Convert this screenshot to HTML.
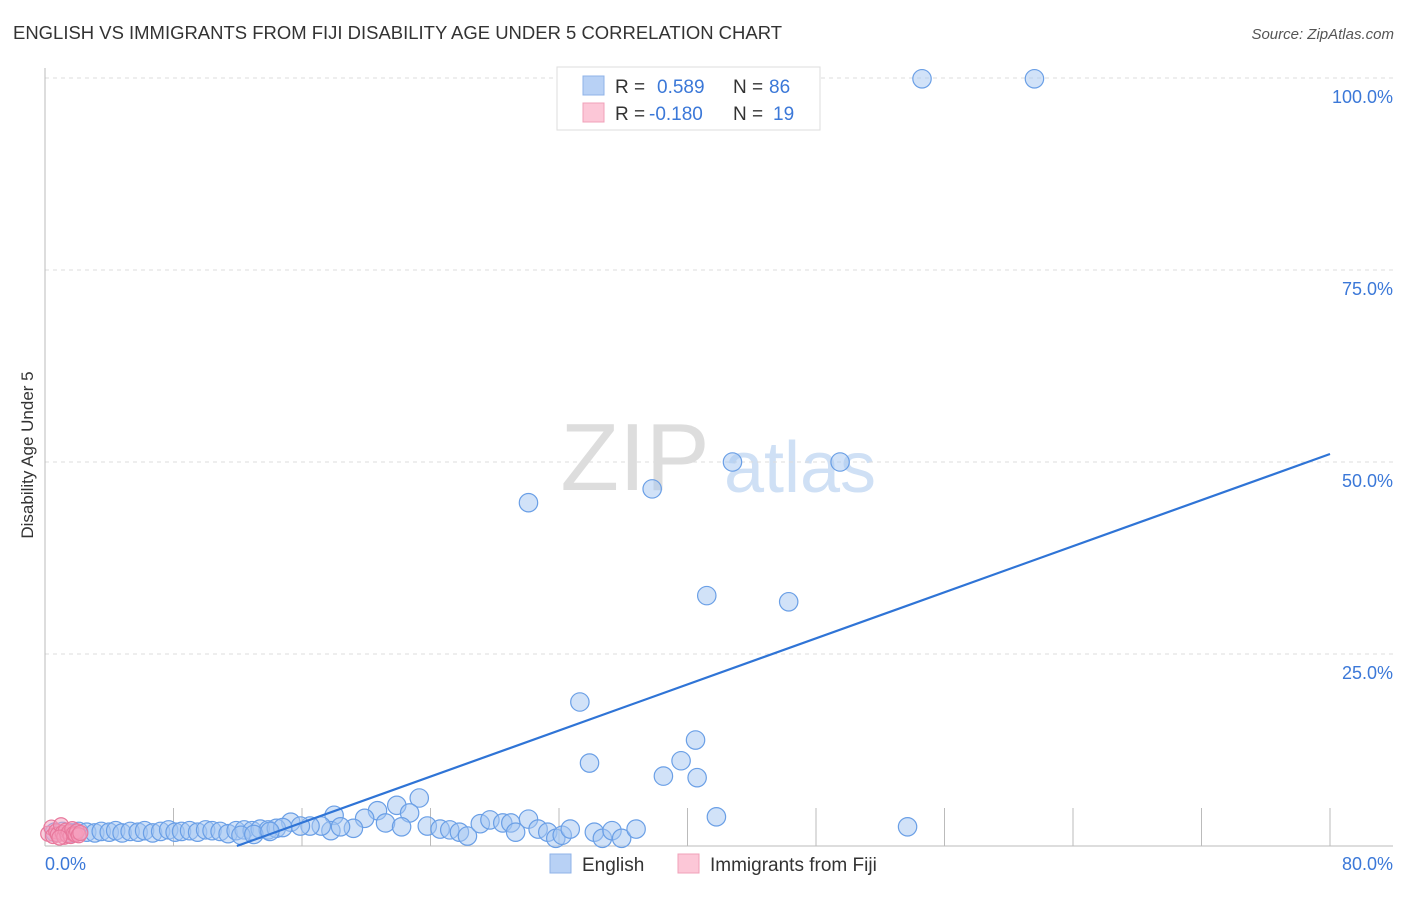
<!DOCTYPE html>
<html><head><meta charset="utf-8">
<style>
body{margin:0;background:#fff;font-family:"Liberation Sans",sans-serif;}
svg text{font-family:"Liberation Sans",sans-serif;}
</style></head>
<body>
<svg id="chart" width="1406" height="892" xmlns="http://www.w3.org/2000/svg">
<text x="13" y="39" font-size="18" fill="#333" textLength="769" lengthAdjust="spacingAndGlyphs">ENGLISH VS IMMIGRANTS FROM FIJI DISABILITY AGE UNDER 5 CORRELATION CHART</text>
<text x="1394" y="39" font-size="15" fill="#555" font-style="italic" text-anchor="end">Source: ZipAtlas.com</text>
<text transform="translate(33,455) rotate(-90)" font-size="17" fill="#333" text-anchor="middle">Disability Age Under 5</text>
<g>
<text x="635" y="490" font-size="96" fill="#ddd" font-family="Liberation Serif" text-anchor="middle">ZIP</text>
<text x="800" y="492" font-size="72" fill="#cfe0f5" text-anchor="middle">atlas</text>
</g>
<g id="grid"></g>
<g id="axes"></g>
<g id="marks"></g>
<g>
<rect x="557" y="67" width="263" height="63" fill="#fff" stroke="#ddd"/>
<rect x="583" y="76" width="21" height="19" fill="#b8d1f5" stroke="#8fb3e8"/>
<rect x="583" y="103" width="21" height="19" fill="#fcc7d7" stroke="#f0a0b8"/>
<text x="615" y="93" font-size="19" fill="#333">R =</text>
<text x="657" y="93" font-size="19" fill="#3b78d8">0.589</text>
<text x="733" y="93" font-size="19" fill="#333">N =</text>
<text x="769" y="93" font-size="19" fill="#3b78d8">86</text>
<text x="615" y="120" font-size="19" fill="#333">R =</text>
<text x="649" y="120" font-size="19" fill="#3b78d8">-0.180</text>
<text x="733" y="120" font-size="19" fill="#333">N =</text>
<text x="773" y="120" font-size="19" fill="#3b78d8">19</text>
</g>
<g>
<rect x="550" y="854" width="21" height="19" fill="#b8d1f5" stroke="#8fb3e8"/>
<text x="582" y="871" font-size="19" fill="#333">English</text>
<rect x="678" y="854" width="21" height="19" fill="#fcc7d7" stroke="#f0a0b8"/>
<text x="710" y="871" font-size="19" fill="#333">Immigrants from Fiji</text>
</g>
</svg>
<script>
const yTicks=[25,50,75,100];
const yTickLabels=["25.0%","50.0%","75.0%","100.0%"];
const xTicks=[8,16,24,32,40,48,56,64,72,80];
const englishX=[54.6,61.6,42.8,49.5,37.8,30.1,41.2,46.3,33.3,33.9,40.5,39.6,38.5,40.6,41.8,53.7,
23.3,21.9,22.7,20.7,19.9,18.0,21.2,22.2,19.2,17.8,18.4,17.2,16.5,15.3,15.9,23.8,24.6,25.2,25.8,26.3,27.1,27.7,28.5,29.0,29.3,30.1,30.7,31.3,31.8,32.2,32.7,34.2,34.7,35.3,35.9,36.8,
0.6,1.1,1.6,2.1,2.6,3.1,3.5,4.0,4.4,4.8,5.3,5.8,6.2,6.7,7.2,7.7,8.1,8.5,9.0,9.5,10.0,10.4,10.9,11.4,11.9,12.4,12.9,13.4,13.9,14.4,14.8,12.2,13.0,14.0];
const englishY=[99.9,99.9,50.0,50.0,46.5,44.7,32.6,31.8,18.75,10.8,13.8,11.1,9.1,8.9,3.8,2.5,
6.25,5.3,4.3,4.6,3.6,4.0,3.0,2.5,2.3,2.0,2.5,2.6,2.6,3.1,2.6,2.6,2.2,2.1,1.8,1.3,2.9,3.4,3.0,3.0,1.8,3.5,2.2,1.8,1.0,1.4,2.2,1.8,1.0,2.0,1.0,2.2,
1.8,1.9,1.7,1.9,1.8,1.7,1.9,1.8,2.0,1.7,1.9,1.8,2.0,1.7,1.9,2.1,1.8,1.9,2.0,1.8,2.1,2.0,1.9,1.6,2.0,2.1,2.0,2.2,2.1,2.3,2.4,1.4,1.5,1.9];
const fijiX=[0.2,0.4,0.5,0.7,0.8,1.0,1.1,1.2,1.3,1.4,1.5,1.6,1.7,1.8,1.9,2.0,2.1,2.2,0.9];
const fijiY=[1.6,2.4,1.3,1.9,1.5,2.7,1.7,1.2,2.0,1.4,1.8,1.3,2.2,1.6,1.5,1.9,1.4,1.7,1.1];
const trendIntercept=-8.96, trendSlope=0.75;

const X0=45,X1=1330,Y0=846,Y1=78;
const sx=v=>X0+v/80*(X1-X0);
const sy=v=>Y0-v/100*(Y0-Y1);
const NS="http://www.w3.org/2000/svg";
function mk(t,a,p){const e=document.createElementNS(NS,t);for(const k in a)e.setAttribute(k,a[k]);p.appendChild(e);return e;}
const grid=document.getElementById('grid'),axes=document.getElementById('axes'),marks=document.getElementById('marks');
yTicks.forEach((t,i)=>{
 const l=mk('line',{x1:X0,x2:1393,y1:sy(t),y2:sy(t),stroke:'#ddd','stroke-dasharray':'4,4'},grid);
 
 
 const tx=mk('text',{x:1393,y:sy(t)+25,'font-size':18,fill:'#3b78d8','text-anchor':'end'},grid);
 tx.textContent=yTickLabels[i];
 
 
});
const ya=mk('line',{x1:X0,x2:X0,y1:68,y2:Y0,stroke:'#bbb'},axes);


const xa=mk('line',{x1:X0,x2:1393,y1:Y0,y2:Y0,stroke:'#bbb'},axes);


xTicks.forEach(t=>{
 const l=mk('line',{x1:sx(t),x2:sx(t),y1:808,y2:Y0,stroke:'#bbb'},axes);
 
 
});
const xl0=mk('text',{x:45,y:870,'font-size':18,fill:'#3b78d8'},axes);xl0.textContent='0.0%';


const xl1=mk('text',{x:1393,y:870,'font-size':18,fill:'#3b78d8','text-anchor':'end'},axes);xl1.textContent='80.0%';


englishX.forEach((x,i)=>{
 const c=mk('circle',{cx:sx(x),cy:sy(englishY[i]),r:9.2,fill:'rgba(164,198,242,0.5)',stroke:'#6a9fe6','stroke-width':1.2},marks);
 
 
});
fijiX.forEach((x,i)=>{
 const c=mk('circle',{cx:sx(x),cy:sy(fijiY[i]),r:7.5,fill:'rgba(245,160,190,0.5)',stroke:'#e8789c','stroke-width':1.2},marks);
 
 
});
const xs=-trendIntercept/trendSlope;
const tl=mk('line',{x1:sx(xs),y1:sy(0),x2:sx(80),y2:sy(trendIntercept+trendSlope*80),stroke:'#2f74d6','stroke-width':2.2},marks);


</script>
</body></html>
